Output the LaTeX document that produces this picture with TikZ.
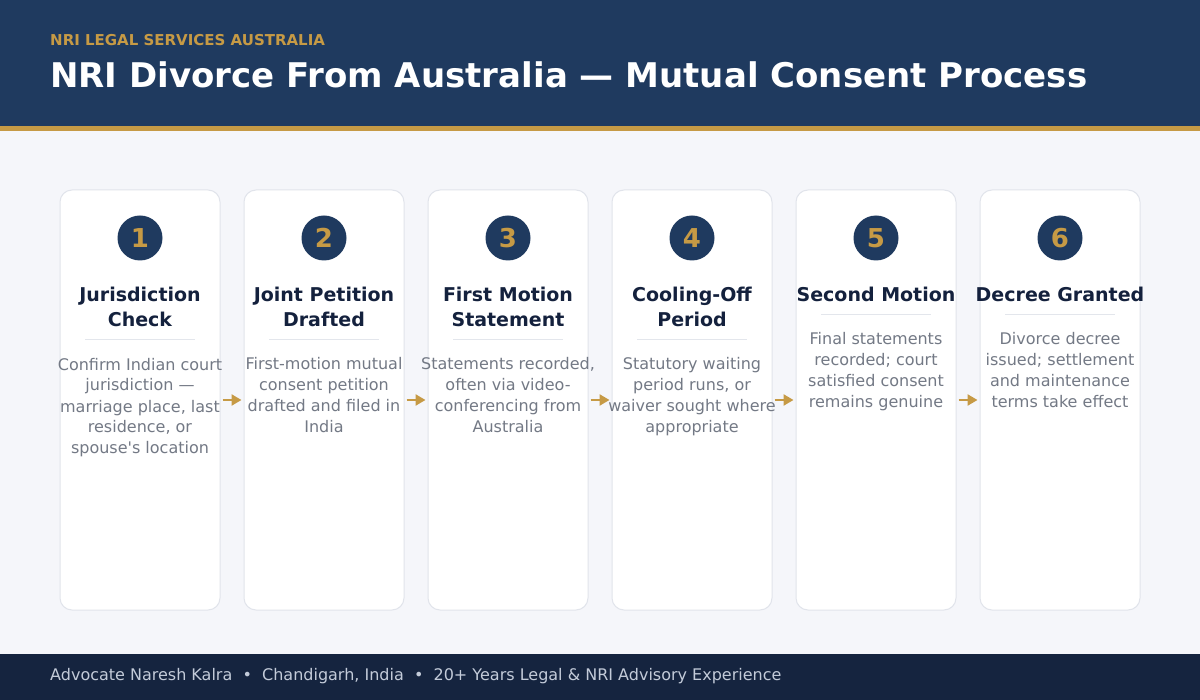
\documentclass[tikz,border=0pt]{standalone}
\usepackage{fontspec}
\setmainfont{DejaVu Sans}
\usepackage{xcolor}
\usetikzlibrary{arrows.meta}

\definecolor{headnavy}{HTML}{1F3A5F}
\definecolor{footnavy}{HTML}{15243F}
\definecolor{gold}{HTML}{C69A45}
\definecolor{pagebg}{HTML}{F5F6FA}
\definecolor{cardline}{HTML}{E1E4EB}
\definecolor{sepgray}{HTML}{E3E6EC}
\definecolor{titlenavy}{HTML}{14213D}
\definecolor{descgray}{HTML}{737985}
\definecolor{foottext}{HTML}{C3CBD9}

\tikzset{
    card/.style={draw=cardline, fill=white, line width=1pt, rounded corners=12pt,
        minimum width=160pt, minimum height=420pt},
    badge/.style={circle, fill=headnavy, text=gold, minimum size=45pt, inner sep=0pt,
        font=\fontsize{26}{26}\selectfont\bfseries},
    steptitle/.style={anchor=base, align=center, text=titlenavy, inner sep=0pt,
        font=\fontsize{19}{25}\selectfont\bfseries},
    stepdesc/.style={anchor=base, align=center, text=descgray, inner sep=0pt,
        font=\fontsize{16}{21}\selectfont},
    sepline/.style={draw=sepgray, line width=1pt},
    flowarrow/.style={draw=gold, line width=2.8pt, -{Triangle[length=10pt,width=11pt]},
        shorten <=2pt, shorten >=2pt}
}

\begin{document}
\begin{tikzpicture}[x=1pt, y=-1pt]

    % Page background, header band and footer band
    \fill[pagebg] (0,0) rectangle (1200,700);
    \fill[headnavy] (0,0) rectangle (1200,126);
    \fill[gold] (0,126) rectangle (1200,131);
    \fill[footnavy] (0,654) rectangle (1200,700);

    % Header texts
    \node[anchor=base west, inner sep=0pt, text=gold, font=\fontsize{15}{15}\selectfont\bfseries]
        (kicker) at (50,45.5) {NRI LEGAL SERVICES AUSTRALIA};
    \node[anchor=base west, inner sep=0pt, text=white, font=\fontsize{34}{34}\selectfont\bfseries]
        (heading) at (50,88) {NRI Divorce From Australia — Mutual Consent Process};

    % Step cards
    \node[card] (c1) at (140,400) {};
    \node[card] (c2) at (324,400) {};
    \node[card] (c3) at (508,400) {};
    \node[card] (c4) at (692,400) {};
    \node[card] (c5) at (876,400) {};
    \node[card] (c6) at (1060,400) {};

    % Numbered badges
    \node[badge] (n1) at (140,238) {1};
    \node[badge] (n2) at (324,238) {2};
    \node[badge] (n3) at (508,238) {3};
    \node[badge] (n4) at (692,238) {4};
    \node[badge] (n5) at (876,238) {5};
    \node[badge] (n6) at (1060,238) {6};

    % Step titles (placed by the baseline of their last line)
    \node[steptitle] (t1) at (140,326.5) {Jurisdiction\\Check};
    \node[steptitle] (t2) at (324,326.5) {Joint Petition\\Drafted};
    \node[steptitle] (t3) at (508,326.5) {First Motion\\Statement};
    \node[steptitle] (t4) at (692,326.5) {Cooling-Off\\Period};
    \node[steptitle] (t5) at (876,301.5) {Second Motion};
    \node[steptitle] (t6) at (1060,301.5) {Decree Granted};

    % Thin rules under the titles
    \draw[sepline] (85,340) -- (195,340);
    \draw[sepline] (269,340) -- (379,340);
    \draw[sepline] (453,340) -- (563,340);
    \draw[sepline] (637,340) -- (747,340);
    \draw[sepline] (821,315) -- (931,315);
    \draw[sepline] (1005,315) -- (1115,315);

    % Step descriptions (placed by the baseline of their last line)
    \node[stepdesc] (d1) at (140,454) {Confirm Indian court\\jurisdiction —\\marriage place, last\\residence, or\\spouse\textquotesingle s location};
    \node[stepdesc] (d2) at (324,433) {First-motion mutual\\consent petition\\drafted and filed in\\India};
    \node[stepdesc] (d3) at (508,433) {Statements recorded,\\often via video-\\conferencing from\\Australia};
    \node[stepdesc] (d4) at (692,433) {Statutory waiting\\period runs, or\\waiver sought where\\appropriate};
    \node[stepdesc] (d5) at (876,408) {Final statements\\recorded; court\\satisfied consent\\remains genuine};
    \node[stepdesc] (d6) at (1060,408) {Divorce decree\\issued; settlement\\and maintenance\\terms take effect};

    % Arrows from one card to the next
    \draw[flowarrow] (c1) -- (c2);
    \draw[flowarrow] (c2) -- (c3);
    \draw[flowarrow] (c3) -- (c4);
    \draw[flowarrow] (c4) -- (c5);
    \draw[flowarrow] (c5) -- (c6);

    % Footer line
    \node[anchor=base west, inner sep=0pt, text=foottext, font=\fontsize{16}{16}\selectfont]
        (credit) at (50,680) {Advocate Naresh Kalra \ •\ \ Chandigarh, India \ •\ \ 20+ Years Legal \& NRI Advisory Experience};

\end{tikzpicture}
\end{document}
